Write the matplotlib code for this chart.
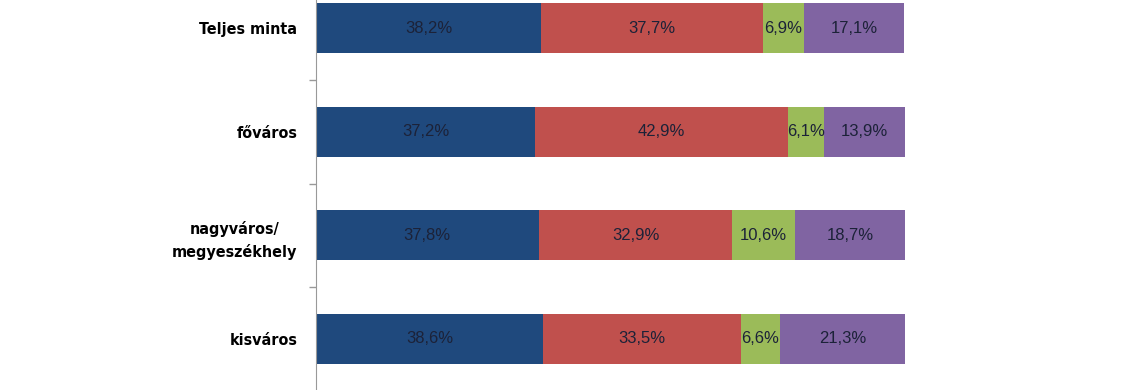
import numpy as np
import matplotlib.pyplot as plt
from matplotlib.ticker import FixedLocator

categories = ["Teljes minta", "főváros", "nagyváros/\nmegyeszékhely", "kisváros"]
seg1 = [38.2, 37.2, 37.8, 38.6]
seg2 = [37.7, 42.9, 32.9, 33.5]
seg3 = [6.9, 6.1, 10.6, 6.6]
seg4 = [17.1, 13.9, 18.7, 21.3]
series = [seg1, seg2, seg3, seg4]
colors = ["#1F497D", "#C0504D", "#9BBB59", "#8064A2"]

fig = plt.figure(figsize=(11.4, 3.9), dpi=100)
ax = fig.add_axes([316/1140, -0.5/390, 589/1140, 414/390])

y = np.arange(len(categories))
left = np.zeros(len(categories))
for vals, col in zip(series, colors):
    vals = np.array(vals)
    ax.barh(y, vals, left=left, height=0.485, color=col)
    for yi, l, v in zip(y, left, vals):
        ax.text(l + v/2, yi, f"{v:.1f}%".replace(".", ","), ha="center", va="center",
                fontsize=12, color="#1c2238", family=["Liberation Sans", "DejaVu Sans"])
    left += vals

ax.set_xlim(0, 100)
ax.set_ylim(3.5, -0.5)
ax.set_yticks(y)
labels = ax.set_yticklabels(categories, fontsize=11.5, fontweight="bold",
                            family="DejaVu Sans", fontstretch="condensed",
                            linespacing=1.55)
for t in labels:
    t.set_multialignment("center")
ax.tick_params(axis="y", which="major", length=0, pad=13.5)
ax.yaxis.set_minor_locator(FixedLocator([0.5, 1.5, 2.5]))
ax.tick_params(axis="y", which="minor", length=5, color="#999999", width=1)
ax.set_xticks([])
for s in ["top", "right", "bottom"]:
    ax.spines[s].set_visible(False)
ax.spines["left"].set_color("#999999")

plt.savefig("out.png", dpi=100)
